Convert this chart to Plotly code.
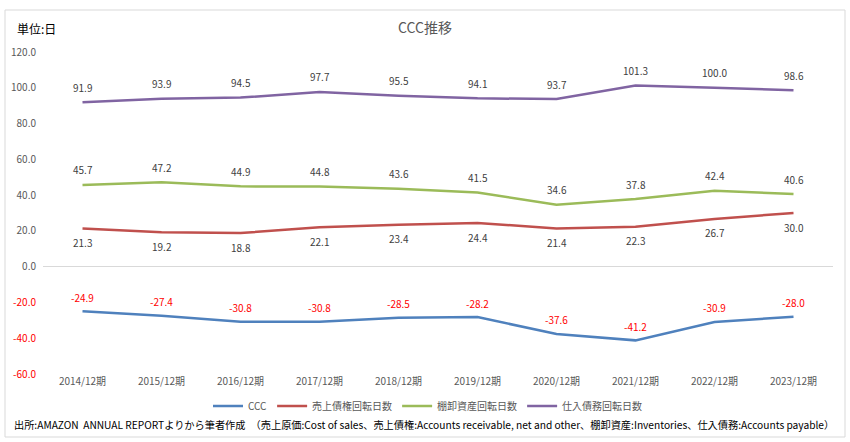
import plotly.graph_objects as go

years = ["2014/12期", "2015/12期", "2016/12期", "2017/12期", "2018/12期",
         "2019/12期", "2020/12期", "2021/12期", "2022/12期", "2023/12期"]
ccc = [-24.9, -27.4, -30.8, -30.8, -28.5, -28.2, -37.6, -41.2, -30.9, -28.0]
receivable_days = [21.3, 19.2, 18.8, 22.1, 23.4, 24.4, 21.4, 22.3, 26.7, 30.0]
inventory_days = [45.7, 47.2, 44.9, 44.8, 43.6, 41.5, 34.6, 37.8, 42.4, 40.6]
payable_days = [91.9, 93.9, 94.5, 97.7, 95.5, 94.1, 93.7, 101.3, 100.0, 98.6]
y_ticks = [-60, -40, -20, 0, 20, 40, 60, 80, 100, 120]

FONT = "Noto Sans CJK JP, Liberation Sans, sans-serif"
LABEL = "#404040"

fig = go.Figure()
annotations = []

def add(name, vals, color, shift, tcolor):
    fig.add_trace(go.Scatter(
        x=years, y=vals, name=name, mode="lines",
        line=dict(color=color, width=2.5),
    ))
    for x, v in zip(years, vals):
        annotations.append(dict(
            x=x, y=v, xref="x", yref="y", text=f"{v:.1f}", showarrow=False,
            yshift=shift, xanchor="center", yanchor="middle",
            font=dict(size=10, color=tcolor, family=FONT)))

add("CCC", ccc, "#4F81BD", 14, "#FF0000")
add("売上債権回転日数", receivable_days, "#C0504D", -14, LABEL)
add("棚卸資産回転日数", inventory_days, "#9BBB59", 15, LABEL)
add("仕入債務回転日数", payable_days, "#8064A2", 15, LABEL)

ticktext = [(f"<span style='color:#FF0000'>{v:.1f}</span>" if v < 0 else f"{v:.1f}") for v in y_ticks]

L, R, T, B = 43, 17, 52, 68
W, H = 850, 442
ph = H - T - B
pw = W - L - R

def px(x):
    return (x - L) / pw

def py(y):
    return (H - B - y) / ph

annotations += [
    dict(text="単位:日", xref="paper", yref="paper", x=px(15), y=py(28),
         xanchor="left", yanchor="middle", showarrow=False,
         font=dict(size=12, color="#000000", family=FONT)),
    dict(text="出所:AMAZON  ANNUAL REPORTよりから筆者作成　（売上原価:Cost of sales、売上債権:Accounts receivable, net and other、棚卸資産:Inventories、仕入債務:Accounts payable）",
         xref="paper", yref="paper", x=px(12), y=py(424),
         xanchor="left", yanchor="middle", showarrow=False,
         font=dict(size=10.2, color="#000000", family=FONT)),
]

fig.update_layout(
    width=W, height=H,
    margin=dict(l=L, r=R, t=T, b=B),
    paper_bgcolor="white", plot_bgcolor="white",
    font=dict(family=FONT, color="#595959"),
    title=dict(text="CCC推移", x=0.5, xanchor="center", xref="container",
               y=1 - 28 / H, yanchor="middle", yref="container",
               font=dict(size=14, color="#595959", family=FONT)),
    showlegend=True,
    legend=dict(orientation="h", x=px(428), xanchor="center", y=py(406), yanchor="middle",
                font=dict(size=10, color="#595959", family=FONT), itemwidth=30,
                bgcolor="rgba(0,0,0,0)"),
    xaxis=dict(type="category", range=[-0.5, 9.5], showgrid=False, showline=False,
               zeroline=False, ticks="", tickfont=dict(size=10, color="#595959", family=FONT),
               fixedrange=True),
    yaxis=dict(range=[-60, 120], tickvals=y_ticks, ticktext=ticktext, showgrid=False,
               zeroline=True, zerolinecolor="#D9D9D9", zerolinewidth=1, showline=False,
               ticks="", tickfont=dict(size=10, color="#595959", family=FONT),
               ticklabelstandoff=6, fixedrange=True),
    annotations=annotations,
    shapes=[
        dict(type="rect", xref="paper", yref="paper", x0=px(5), x1=px(845),
             y0=py(437), y1=py(10), line=dict(color="#D9D9D9", width=1), layer="below"),
    ],
)

fig.write_html("out.html")
